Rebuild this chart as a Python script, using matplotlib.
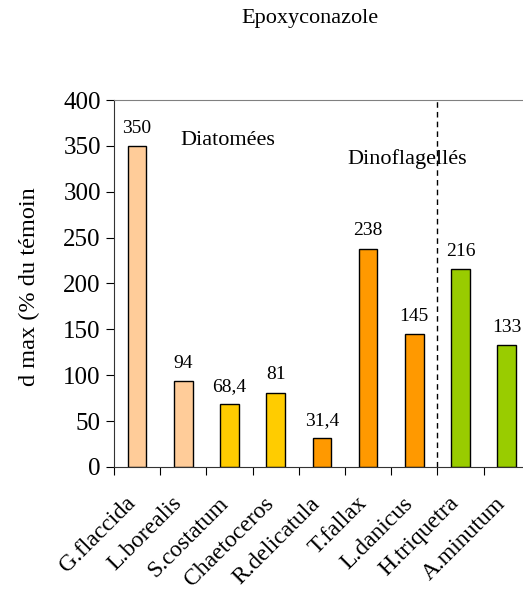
import matplotlib
matplotlib.use('Agg')
import matplotlib.pyplot as plt

# données
especes = ['G.flaccida', 'L.borealis', 'S.costatum', 'Chaetoceros', 'R.delicatula',
           'T.fallax', 'L.danicus', 'H.triquetra', 'A.minutum']
valeurs = [350, 94, 68.4, 81, 31.4, 238, 145, 216, 133]
etiquettes = ['350', '94', '68,4', '81', '31,4', '238', '145', '216', '133']
couleurs = ['#FFCC99', '#FFCC99', '#FFCC00', '#FFCC00', '#FF9900',
            '#FF9900', '#FF9900', '#99CC00', '#99CC00']

plt.rcParams['font.family'] = ['Liberation Serif', 'DejaVu Serif']

fig = plt.figure(figsize=(5.23, 5.90), dpi=100)
ax = fig.add_axes([0.218, 0.2085, 0.795, 0.622])

x = range(len(especes))
ax.bar(x, valeurs, width=0.4, color=couleurs, edgecolor='black', linewidth=1)
for i, (v, t) in enumerate(zip(valeurs, etiquettes)):
    ax.text(i, v + 10, t, ha='center', va='bottom', fontsize=14)

ax.set_xlim(-0.5, len(especes) - 0.5)
ax.set_ylim(0, 400)
ax.set_yticks(range(0, 401, 50))
ax.set_xticks([i - 0.5 for i in x])
ax.set_xticklabels([])
ax.set_xticks([i - 0.1 for i in x], minor=True)
ax.set_xticklabels(especes, minor=True, rotation=45, ha='right', va='center',
                   rotation_mode='anchor', fontsize=17)
ax.tick_params(axis='x', which='minor', length=0, pad=24)
ax.tick_params(axis='x', which='major', length=6, direction='out')
ax.tick_params(axis='y', length=6, direction='out', labelsize=18)

ax.spines['right'].set_visible(False)
ax.spines['top'].set_color('#808080')
ax.spines['left'].set_color('#333333')
ax.spines['bottom'].set_color('#333333')

ax.axvline(6.5, color='black', linestyle='--', linewidth=1, dashes=(4, 3))

ax.text(1.97, 356, 'Diatomées', ha='center', va='center', fontsize=16)
ax.text(5.84, 336, 'Dinoflagellés', ha='center', va='center', fontsize=16)

fig.text(0.593, 0.968, 'Epoxyconazole', ha='center', va='center', fontsize=16)
fig.text(0.057, 0.514, 'd max (% du témoin', ha='center', va='center', rotation=90, fontsize=17.5)

fig.savefig('out.png', dpi=100)
